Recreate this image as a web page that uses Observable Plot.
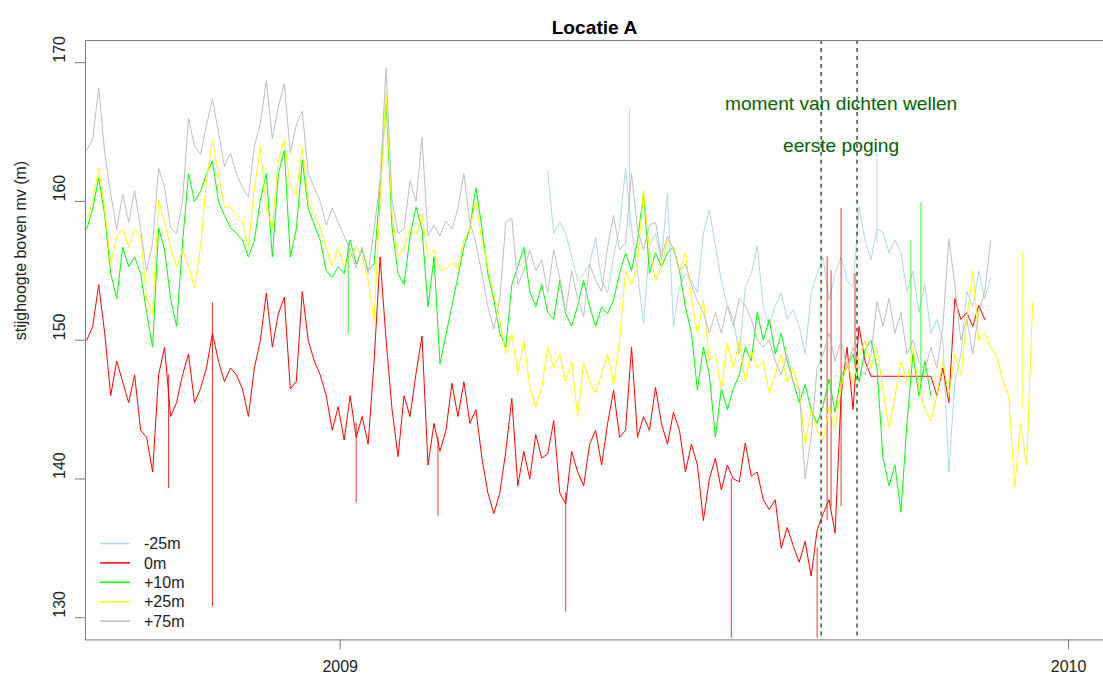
<!DOCTYPE html>
<html>
<head>
<meta charset="utf-8">
<script src="https://cdn.jsdelivr.net/npm/d3@7"></script>
<script src="https://cdn.jsdelivr.net/npm/@observablehq/plot@0.6"></script>
<style>
  html, body { margin: 0; padding: 0; background: #fff; overflow: hidden; }
  #wrap { position: relative; width: 1103px; height: 684px; overflow: hidden; }
  #legend { position: absolute; left: 0; top: 0; }
</style>
</head>
<body>
<div id="wrap"></div>
<script>
// Piezometer heads (m above ground level), one reading every 3 days from 2008-08-27.
const gridStart = new Date(Date.UTC(2008, 7, 27));
const gridStepDays = 3;

const seriesNames = ["-25m", "0m", "+10m", "+25m", "+75m"];
const seriesColors = ["#add8e6", "#ff0000", "#00ff00", "#ffff00", "#bebebe"];

// -25m starts later than the other wells (grid index 77)
const startMinus25 = 77;
const headMinus25 = [
  162.2,157.7,158.5,157.7,156,154.3,154.8,155.5,157.4,154.3,
  153.4,156,158.1,162.4,158.1,154.8,151.2,156.8,157.7,155.8,
  160.6,151,153.8,154.8,154.3,153.4,157.7,159.4,156.8,154.3,
  152.5,151.5,149,153.8,154.8,156.8,152.4,151,152.5,153.4,
  151.5,152.2,151,149,153.4,154.8,156,152.9,154.8,156,
  154.3,153.8,159.6,157.2,155.8,158,157.8,156.3,157.2,156.3,
  153.5,155,152,154,150.5,151.5,150,140.5,147,149,
  153.5,152.4,155,153,154.5
];

const head0 = [
  150,151,154,150.5,146,148.5,147,145.5,147.5,143.5,
  143,140.5,147.5,149.5,144.5,145.5,147.5,149,145.5,146.5,
  148,150.5,148.5,147,148,147.5,146.5,144.5,148,150,
  153.4,149.5,151.9,153.1,146.5,147,153.5,150,148.5,147.5,
  146,143.5,145.2,142.8,146,143,144.5,142.5,148.5,156,
  150,145,141.6,146,144.5,147.6,150.3,141,144,142,
  143.5,146.9,144.5,147,144,145,141.5,139,137.5,139,
  142,145.8,139.5,142,140,143.2,141.5,141.8,144.2,139,
  138.2,142,140.5,139.5,142.5,143.5,141,144,146.4,143,
  143.5,149.5,143,144.5,143.5,146.6,144,142.5,144.8,143.5,
  140.5,142.5,141,137,140,141.5,139.2,141,140,139.8,
  142.6,140.2,140.5,138.5,137.8,138.5,135,136.5,135.2,134,
  135.5,133,136.3,137.5,138.5,136.1,146,149.5,145,151,
  148.5,147.4,null,null,null,null,null,null,null,null,
  null,147.4,146,148,145.5,153,151.5,152,151,152.5,
  151.5
];

const head10 = [
  158,159.5,161.7,159,154.8,153,156.7,155.3,156,154.8,
  152,149.5,158.1,156.5,153,151,157,162,160,160.7,
  162,162.9,160,159,158.1,157.7,157.2,156,157.2,160.1,
  162,156,162,163.7,156,158,163,159.5,158.3,157.2,
  155,154.5,155.3,154.8,157.2,155.5,156.5,155,155.5,161,
  167.3,158.1,154.8,154,157.5,159.6,158,152.4,156,148.3,
  null,null,null,156.7,158.1,161,158.1,154.8,152.9,150.5,
  149.5,154,155.3,156.7,153.5,152.4,154,152,151.5,154.3,
  151.9,151,152.5,154.3,152.4,151,152.4,151.9,152.9,154.8,
  156.3,155,157.2,160.6,154.8,156.3,155.3,156.3,156.7,155,
  152.4,150.5,146.4,149.5,147.5,143,146.5,145,146.5,147.5,
  149.5,148.5,152,150,151.5,149,150.5,148.5,147,145.5,
  146.8,145,144,145.3,147.2,144.8,147.5,148,149,147,
  149.3,150,148,141.5,139.5,141,137.6,144,149,146,
  148.5,146
];

const head25 = [
  158.6,160,162.4,159.5,155.5,157.5,158,156.7,158,157.5,
  153,151.9,160.1,158.5,156.7,155.3,156.5,155.3,153.8,156.7,
  161.5,164.4,162,159.6,159.6,159,158.5,156.7,161,163.9,
  159.5,158.1,163,164.4,161,160.5,163.9,160,159.1,158.1,
  156.7,155.3,156.7,155.3,156,156.7,156,154.3,151.4,160,
  167.8,159.1,156,156.7,158,157.6,159,156,156.5,155,
  155.1,155.6,155.1,157.2,158.1,160,157.2,155.3,153.4,151.5,
  149,150.5,147.6,150,146.6,145.2,146.6,149.5,148,149,
  147,148.5,144.5,148.4,147,146.2,147.6,149,146.8,150,
  155,154,155.5,160.8,156.5,154.3,155.3,157.2,156.7,155,
  156.3,153,150.5,152.9,148.5,149,146.5,149.8,148,150,
  147,149.2,148,148.5,146.2,147.5,149,147,148,146.4,
  142.5,145,143.5,142.8,145.2,143.7,146.5,148.5,147,148.8,
  150,148,149.5,146.4,143.7,146,148.5,147,149.5,146.5,
  145,144.2,146,148.5,146,149,147.5,151.5,155,150,
  150.5,149.5,148.8,147.1,146,139.5,144,141,152.7
];

const head75 = [
  163.7,164.5,168.2,163.5,160.5,158,160.5,158.5,160.8,158,
  155,157,162.4,161,158.1,157.7,160,166,164,163.4,
  165.5,167.4,165,162.5,163.5,162,161,160.3,164,165.6,
  168.7,164.5,166.8,168.5,163.5,165.5,166.5,162,161,160,
  158.3,159.5,158.5,157.5,156.5,155.2,156.7,154.8,158,161.5,
  169.6,160.1,157.7,158,161.5,160,164.6,157.5,158.3,157.5,
  158.6,158,159.5,162,158.5,157,154.8,152.4,150.8,153,
  158.5,158.8,154,155,156.5,155,155.8,153.4,156.5,154.5,
  152,155,153,151.7,155.5,154.3,153.5,156.7,159,156.5,
  157,162,158,156.5,158.3,158.5,156,157.5,156.5,155,
  155.5,154,152.8,152,150.5,152,150.5,152.5,151,153,
  152.5,151.5,150,149.5,150,148.5,147.5,149,147,146.5,
  140,143,148,149,150.5,148.5,150,148,149.5,148,
  147.5,149,152.8,151,153,150.5,152,149,150,148.5,
  147.8,149.5,148,151,157.3,154,150,151.5,149,152,
  153.5,157.2
];

// Single-reading outliers: [well, date, head before, outlier head]
const spikes = [
  ["0m", "2008-10-07", 147.5, 139.3],
  ["0m", "2008-10-29", 152.7, 130.8],
  ["0m", "2009-01-09", 144, 138.3],
  ["0m", "2009-02-19", 143, 137.3],
  ["0m", "2009-04-24", 139, 130.4],
  ["0m", "2009-07-16", 140, 128.5],
  ["0m", "2009-08-28", 135, 128.5],
  ["0m", "2009-09-02", 137, 156],
  ["0m", "2009-09-04", 138, 155],
  ["0m", "2009-09-09", 138, 159.5],
  ["0m", "2009-09-16", 148, 154.8],
  ["+10m", "2009-01-05", 157, 150.4],
  ["+10m", "2009-10-14", 149, 157.2],
  ["+10m", "2009-10-19", 147, 159.9],
  ["+25m", "2009-12-09", 145, 156.3],
  ["-25m", "2009-05-26", 158, 166.7],
  ["-25m", "2009-09-27", 157, 163.5]
];

// Sealing of the wells: first attempt and final date
const sealDates = ["2009-08-30", "2009-09-17"];
const noteDate = "2009-09-09";
const noteLines = [["moment van dichten wellen", 167], ["eerste poging", 164]];

const yTicks = [130, 140, 150, 160, 170];
const xTicks = ["2009-01-01", "2010-01-01"];
const xTickLabels = ["2009", "2010"];

const seriesData = {
  "-25m": [startMinus25, headMinus25],
  "0m": [0, head0],
  "+10m": [0, head10],
  "+25m": [0, head25],
  "+75m": [0, head75]
};

const rows = [];
for (const name of seriesNames) {
  const [offset, values] = seriesData[name];
  values.forEach((v, i) => {
    if (v != null) rows.push({series: name, date: d3.utcDay.offset(gridStart, (offset + i) * gridStepDays), head: v});
  });
}
const spikeRows = spikes.map(([series, date, from, to]) => ({series, date: new Date(date), from, to}));
const colorOf = Object.fromEntries(seriesNames.map((n, i) => [n, seriesColors[i]]));

const font = "Liberation Sans, Arial, Helvetica, sans-serif";
const axisGray = "#777";
const textColor = "#222";

const marks = [];
for (const name of seriesNames) {
  marks.push(Plot.line(rows.filter(d => d.series === name), {x: "date", y: "head", stroke: colorOf[name], strokeWidth: 1}));
  marks.push(Plot.ruleX(spikeRows.filter(d => d.series === name), {x: "date", y1: "from", y2: "to", stroke: colorOf[name], strokeWidth: 1, strokeOpacity: 0.8}));
}

marks.push(
  Plot.ruleX(sealDates.map(d => new Date(d)), {stroke: "#033803", strokeWidth: 1.2, strokeDasharray: "4,4"}),
  Plot.text(noteLines, {x: () => new Date(noteDate), y: d => d[1], text: d => d[0], fill: "#006400", fontSize: 19.2}),
  Plot.frame({stroke: axisGray}),
  Plot.axisY(yTicks, {tickSize: 10, tickFormat: () => "", stroke: axisGray, label: null}),
  Plot.axisX(xTicks.map(d => new Date(d)), {tickSize: 10, tickFormat: () => "", stroke: axisGray, label: null}),
  Plot.text(yTicks, {y: d => d, text: d => String(d), frameAnchor: "left", dx: -25.5, rotate: -90, fontSize: 16, fill: textColor}),
  Plot.text(xTicks, {x: d => new Date(d), text: (d, i) => xTickLabels[i], frameAnchor: "bottom", dy: 32.5, fontSize: 16, fill: textColor}),
  Plot.text(["Locatie A"], {frameAnchor: "top", dy: -20, fontSize: 19.2, fontWeight: "bold", fill: "#000"}),
  Plot.text(["stijghoogte boven mv (m)"], {frameAnchor: "left", dx: -65, rotate: -90, fontSize: 16, fill: textColor})
);

const chart = Plot.plot({
  width: 1104,
  height: 684,
  marginLeft: 85,
  marginRight: 0,
  marginTop: 40,
  marginBottom: 44,
  x: {type: "utc", domain: [new Date(Date.UTC(2008, 7, 26, 8)), new Date(Date.UTC(2010, 0, 18, 12))], axis: null},
  y: {domain: [128.4, 171.6], axis: null},
  style: {fontFamily: font, fontSize: "16px", background: "#fff", overflow: "visible"},
  marks
});

const wrap = document.getElementById("wrap");
wrap.appendChild(chart);

// Legend in the lower-left corner of the plot area
const ns = "http://www.w3.org/2000/svg";
const leg = document.createElementNS(ns, "svg");
leg.setAttribute("id", "legend");
leg.setAttribute("width", 260);
leg.setAttribute("height", 684);
seriesNames.forEach((name, i) => {
  const y = 543.5 + i * 19.4;
  const line = document.createElementNS(ns, "line");
  line.setAttribute("x1", 100); line.setAttribute("x2", 130);
  line.setAttribute("y1", y); line.setAttribute("y2", y);
  line.setAttribute("stroke", seriesColors[i]);
  line.setAttribute("stroke-width", 1.5);
  leg.appendChild(line);
  const t = document.createElementNS(ns, "text");
  t.setAttribute("x", 144); t.setAttribute("y", y);
  t.setAttribute("dy", "0.35em");
  t.setAttribute("font-family", font);
  t.setAttribute("font-size", 16);
  t.setAttribute("fill", textColor);
  t.textContent = name;
  leg.appendChild(t);
});
wrap.appendChild(leg);
</script>
</body>
</html>
